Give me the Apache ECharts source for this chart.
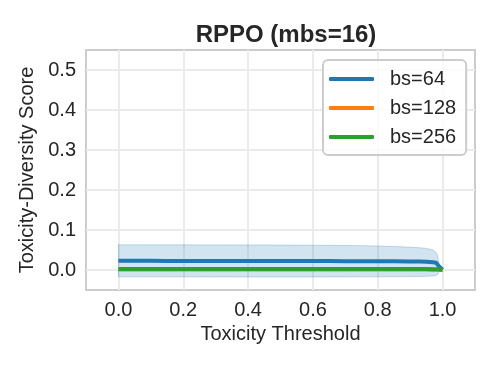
<!DOCTYPE html>
<html>
<head>
<meta charset="utf-8">
<script src="https://cdn.jsdelivr.net/npm/echarts@6/dist/echarts.min.js"></script>
<style>html,body{margin:0;padding:0;background:#fff}#c{width:498px;height:367px}</style>
</head>
<body>
<div id="c"></div>
<script>
const thresholds = [0, 0.05, 0.1, 0.15, 0.2, 0.25, 0.3, 0.35, 0.4, 0.45, 0.5, 0.55, 0.6, 0.65, 0.7, 0.75, 0.8, 0.85, 0.9, 0.93, 0.95, 0.97, 0.98, 0.985, 0.99, 1.0];
const bs64Mean = [0.0230, 0.0229, 0.0229, 0.0228, 0.0228, 0.0227, 0.0227, 0.0226, 0.0226, 0.0225, 0.0225, 0.0224, 0.0223, 0.0222, 0.0221, 0.0220, 0.0218, 0.0216, 0.0213, 0.0210, 0.0205, 0.0195, 0.0180, 0.0150, 0.0080, 0.0005];
const bs64Upper = [0.0630, 0.0630, 0.0630, 0.0629, 0.0629, 0.0628, 0.0628, 0.0627, 0.0626, 0.0625, 0.0624, 0.0622, 0.0620, 0.0617, 0.0613, 0.0608, 0.0600, 0.0588, 0.0570, 0.0555, 0.0540, 0.0500, 0.0440, 0.0350, 0.0100, 0.0005];
const bs64Lower = [-0.0170, -0.0170, -0.0170, -0.0171, -0.0171, -0.0172, -0.0172, -0.0172, -0.0173, -0.0173, -0.0173, -0.0173, -0.0173, -0.0172, -0.0172, -0.0171, -0.0170, -0.0168, -0.0165, -0.0162, -0.0158, -0.0150, -0.0140, -0.0110, -0.0040, 0.0005];
const bs128Mean = [0.0010, 0.0010, 0.0010, 0.0010, 0.0010, 0.0010, 0.0010, 0.0010, 0.0010, 0.0010, 0.0010, 0.0010, 0.0010, 0.0010, 0.0010, 0.0010, 0.0010, 0.0010, 0.0010, 0.0010, 0.0010, 0.0009, 0.0008, 0.0007, 0.0005, 0.0000];
const bs256Mean = [0.0025, 0.0025, 0.0025, 0.0025, 0.0025, 0.0025, 0.0025, 0.0025, 0.0025, 0.0025, 0.0025, 0.0025, 0.0025, 0.0025, 0.0024, 0.0024, 0.0024, 0.0024, 0.0023, 0.0023, 0.0022, 0.0021, 0.0020, 0.0018, 0.0015, 0.0000];
const xTicks = [0, 0.2, 0.4, 0.6, 0.8, 1.0];
const yTicks = [0, 0.1, 0.2, 0.3, 0.4, 0.5];
const seriesNames = ['bs=64', 'bs=128', 'bs=256'];
const colors = ['#1f77b4', '#ff7f0e', '#2ca02c'];

const pair = arr => thresholds.map((t, i) => [t, arr[i]]);

const font = 'Liberation Sans, Arial, sans-serif';
const ink = '#262626';
const chart = echarts.init(document.getElementById('c'), null, {renderer: 'canvas'});
chart.setOption({
  animation: false,
  title: {
    text: 'RPPO (mbs=16)', left: 281, top: 18, textAlign: 'center',
    textStyle: {fontFamily: font, fontSize: 24, fontWeight: 'bold', color: ink}
  },
  grid: {left: 86, right: 23, top: 50, bottom: 77, show: true, borderColor: '#cccccc', borderWidth: 2, backgroundColor: 'transparent'},
  legend: {
    data: seriesNames.map(n => ({name: n, icon: 'roundRect'})),
    orient: 'vertical', left: 323, top: 60,
    itemWidth: 45, itemHeight: 4, itemGap: 9,
    padding: [9, 10, 8, 6],
    borderColor: '#cccccc', borderWidth: 2, borderRadius: 5,
    backgroundColor: 'rgba(255,255,255,0.8)',
    textStyle: {fontFamily: font, fontSize: 20, color: ink, padding: [0, 0, 0, 11], lineHeight: 20}
  },
  xAxis: {
    type: 'value', min: -0.1, max: 1.1,
    name: 'Toxicity Threshold', nameLocation: 'middle', nameGap: 33,
    nameTextStyle: {fontFamily: font, fontSize: 20, color: ink},
    axisLine: {show: false},
    axisTick: {show: false, customValues: xTicks},
    axisLabel: {customValues: xTicks, fontFamily: font, fontSize: 20, color: ink, margin: 10, formatter: v => v.toFixed(1)},
    splitLine: {show: true, lineStyle: {color: '#ebebeb', width: 2}}
  },
  yAxis: {
    type: 'value', min: -0.05, max: 0.55,
    name: 'Toxicity-Diversity Score', nameLocation: 'middle', nameGap: 43,
    nameTextStyle: {fontFamily: font, fontSize: 20, color: ink},
    axisLine: {show: false},
    axisTick: {show: false, customValues: yTicks},
    axisLabel: {customValues: yTicks, fontFamily: font, fontSize: 20, color: ink, margin: 10, formatter: v => v.toFixed(1)},
    splitLine: {show: true, lineStyle: {color: '#ebebeb', width: 2}}
  },
  series: [
    {
      name: 'band', type: 'custom', silent: true, z: 1,
      data: [0],
      renderItem: (params, api) => {
        const up = thresholds.map((t, i) => api.coord([t, bs64Upper[i]]));
        const lo = thresholds.map((t, i) => api.coord([t, bs64Lower[i]])).reverse();
        return {
          type: 'polygon',
          shape: {points: up.concat(lo)},
          style: {fill: 'rgba(31,119,180,0.2)', stroke: 'rgba(31,119,180,0.25)', lineWidth: 1}
        };
      }
    },
    {name: seriesNames[0], type: 'line', data: pair(bs64Mean), symbol: 'none', lineStyle: {color: colors[0], width: 4}, itemStyle: {color: colors[0]}, z: 3},
    {name: seriesNames[1], type: 'line', data: pair(bs128Mean), symbol: 'none', lineStyle: {color: colors[1], width: 4}, itemStyle: {color: colors[1]}, z: 4},
    {name: seriesNames[2], type: 'line', data: pair(bs256Mean), symbol: 'none', lineStyle: {color: colors[2], width: 4}, itemStyle: {color: colors[2]}, z: 5}
  ]
});
</script>
</body>
</html>
